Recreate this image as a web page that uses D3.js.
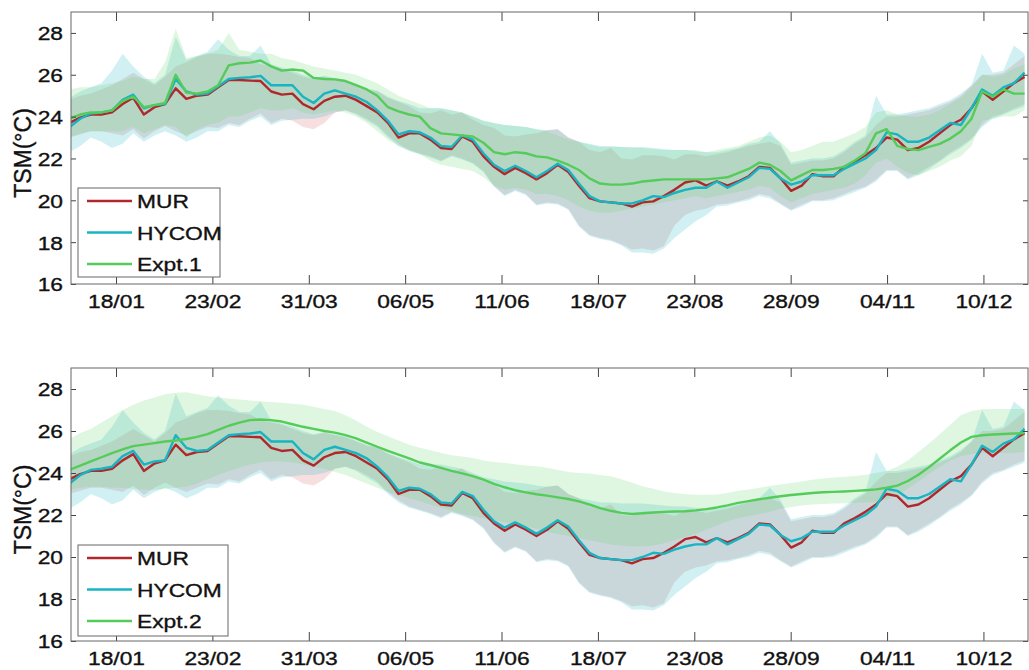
<!DOCTYPE html>
<html>
<head>
<meta charset="utf-8">
<script src="https://cdn.jsdelivr.net/npm/d3@7"></script>
<style>
  body { margin: 0; background: #fff; }
  text { font-family: "Liberation Sans", Arial, Helvetica, sans-serif; fill: #111;
         stroke: #111; stroke-width: 0.35px; }
</style>
</head>
<body>
<svg id="chart" width="1029" height="670"></svg>
<script>
// Daily SST series sampled every 4 days (day of year 1 .. 361)
const DAYS = d3.range(1, 362, 4);

// Date ticks (day of year) and their labels
const TICK_DAYS = [18.5, 54.83, 91.17, 127.5, 163.83, 200.17, 236.5, 272.83, 309.17, 345.5];
const TICK_LABELS = ["18/01", "23/02", "31/03", "06/05", "11/06", "18/07", "23/08", "28/09", "04/11", "10/12"];
const Y_TICKS = [16, 18, 20, 22, 24, 26, 28];

// MUR mean and spread
const MUR = [
  23.7,23.95,24.1,24.1,24.2,24.6,24.9,24.1,24.45,24.6,
  25.35,24.85,25.0,25.05,25.4,25.75,25.75,25.72,25.7,25.2,
  25.05,25.1,24.6,24.35,24.75,24.95,25.0,24.8,24.5,24.2,
  23.7,23.0,23.2,23.2,22.9,22.5,22.45,23.05,22.8,22.1,
  21.6,21.25,21.55,21.3,21.0,21.3,21.7,21.35,20.7,20.1,
  19.95,19.9,19.85,19.7,19.9,19.95,20.2,20.5,20.85,20.95,
  20.7,20.9,20.7,20.9,21.15,21.6,21.55,21.05,20.45,20.7,
  21.25,21.15,21.15,21.6,21.85,22.15,22.5,23.0,22.9,22.4,
  22.5,22.8,23.2,23.6,23.85,24.4,25.2,24.8,25.2,25.6,
  25.9];
const MUR_HI = [
  24.8,25.0,25.1,25.3,25.5,25.8,26.1,25.8,25.5,25.9,
  26.4,26.6,26.85,27.0,27.0,26.95,26.85,26.8,26.5,26.4,
  26.3,26.1,25.9,25.8,25.9,25.8,25.7,25.5,25.3,25.2,
  24.9,24.7,24.5,24.2,24.15,24.3,24.1,24.2,23.85,23.6,
  23.45,23.1,23.05,23.15,23.2,23.35,23.4,23.0,22.8,22.4,
  22.3,22.5,22.0,21.95,22.15,22.15,22.1,21.95,22.2,22.2,
  22.1,22.2,22.3,22.45,22.6,22.7,22.8,22.6,21.7,21.8,
  21.9,21.9,22.0,22.3,22.7,23.0,23.6,24.0,24.0,24.1,
  24.2,24.3,24.5,24.7,25.0,25.5,26.0,26.0,26.1,26.5,
  26.9];
const MUR_LO = [
  23.0,23.15,23.3,23.3,23.2,23.1,23.4,22.95,23.3,23.55,
  23.3,23.1,23.3,23.5,23.45,23.7,23.6,23.9,24.15,23.7,
  23.9,23.8,23.5,23.4,23.7,24.2,24.3,24.15,23.9,23.6,
  23.1,22.7,22.4,22.25,22.1,21.9,22.15,22.0,21.8,21.4,
  20.7,20.25,20.5,20.3,19.8,19.9,19.85,19.6,18.8,18.35,
  18.2,18.1,17.9,17.65,17.7,17.6,17.8,18.8,19.3,19.5,
  19.6,19.8,19.85,19.95,20.1,20.3,20.2,19.85,19.55,19.8,
  20.0,20.0,20.1,20.3,20.5,20.65,21.0,21.45,21.45,21.05,
  21.3,21.6,21.9,22.3,22.6,22.95,23.6,24.0,24.15,24.4,
  24.6];

// HYCOM mean and spread
const HYCOM = [
  23.5,23.9,24.15,24.2,24.3,24.8,25.05,24.4,24.55,24.6,
  25.8,25.2,25.05,25.1,25.45,25.8,25.85,25.88,25.95,25.5,
  25.5,25.5,24.95,24.65,25.1,25.25,25.1,24.95,24.7,24.3,
  23.8,23.15,23.3,23.25,23.0,22.6,22.55,23.1,22.9,22.25,
  21.7,21.4,21.65,21.4,21.1,21.4,21.75,21.45,20.8,20.2,
  19.95,19.9,19.85,19.85,20.0,20.2,20.15,20.35,20.5,20.6,
  20.6,20.9,20.6,20.85,21.1,21.55,21.5,21.05,20.75,20.9,
  21.2,21.2,21.2,21.5,21.75,22.0,22.4,23.25,23.15,22.8,
  22.8,23.0,23.35,23.7,23.6,24.4,25.3,25.0,25.4,25.6,
  26.1];
const HYCOM_HI = [
  24.9,25.2,25.4,25.6,26.2,27.0,26.4,25.9,25.6,26.0,
  27.8,26.7,26.9,27.1,27.7,27.2,26.9,26.9,27.4,26.5,
  26.35,26.2,26.0,25.85,25.95,25.85,25.75,25.55,25.35,25.25,
  24.95,24.75,24.6,24.4,24.4,24.4,24.3,24.2,24.0,23.8,
  23.7,23.6,23.55,23.5,23.4,23.35,23.4,23.0,22.8,22.7,
  22.6,22.6,22.55,22.55,22.55,22.5,22.45,22.4,22.4,22.35,
  22.3,22.3,22.4,22.5,22.7,22.8,23.3,22.7,21.8,21.9,
  22.0,22.0,22.1,22.4,22.8,23.1,25.0,24.1,24.1,24.2,
  24.3,24.4,24.6,24.8,25.1,25.5,27.0,26.1,26.2,27.4,
  27.0];
const HYCOM_LO = [
  22.3,22.6,23.0,22.8,22.5,22.7,23.2,22.8,23.1,23.3,
  23.1,22.8,23.0,23.3,23.3,23.6,23.5,23.8,24.0,23.6,
  23.8,23.85,23.9,23.9,24.0,24.2,24.3,24.1,23.8,23.5,
  23.0,22.6,22.35,22.2,22.05,21.85,22.1,21.95,21.75,21.35,
  20.65,20.2,20.45,20.25,19.75,19.85,19.8,19.55,18.75,18.3,
  18.15,18.05,17.85,17.5,17.5,17.45,17.7,18.2,18.6,19.0,
  19.3,19.7,19.75,19.9,20.0,20.2,20.1,19.8,19.5,19.7,
  19.95,19.95,20.0,20.2,20.4,20.6,20.9,21.4,21.4,21.0,
  21.2,21.5,21.85,22.2,22.5,22.9,23.5,23.9,24.1,24.3,
  24.5];

// Experiment 1 mean and spread
const EXPT1 = [
  23.9,24.1,24.2,24.2,24.3,24.75,24.95,24.45,24.55,24.65,
  26.0,25.15,25.1,25.2,25.5,26.45,26.55,26.58,26.68,26.4,
  26.2,26.25,26.2,25.85,25.8,25.78,25.7,25.5,25.3,25.0,
  24.45,24.25,24.1,24.0,23.45,23.2,23.15,23.1,23.05,22.75,
  22.3,22.2,22.3,22.25,22.1,22.05,21.9,21.7,21.45,21.05,
  20.8,20.75,20.75,20.8,20.9,20.95,21.0,21.0,21.0,21.0,
  21.0,21.05,21.1,21.3,21.5,21.8,21.7,21.4,20.95,21.2,
  21.45,21.45,21.5,21.6,21.9,22.25,23.2,23.4,22.6,22.45,
  22.4,22.55,22.7,22.95,23.3,23.9,25.2,24.95,25.3,25.1,
  25.1];
const EXPT1_HI = [
  25.3,25.4,25.4,25.5,25.6,25.7,25.9,25.8,25.8,26.6,
  28.2,26.8,26.9,27.0,27.2,28.0,27.2,27.1,27.0,27.0,
  26.8,26.7,26.55,26.4,26.3,26.2,26.1,26.0,25.8,25.6,
  25.3,25.0,24.8,24.6,24.4,24.4,24.3,24.2,24.0,23.8,
  23.7,23.6,23.55,23.5,23.4,23.3,23.1,22.9,22.8,22.65,
  22.55,22.55,22.55,22.5,22.5,22.45,22.4,22.4,22.4,22.4,
  22.3,22.4,22.5,22.6,22.8,23.0,23.1,22.8,22.3,22.4,
  22.6,22.8,22.8,23.0,23.2,23.5,24.2,24.3,24.1,24.0,
  24.0,24.1,24.3,24.6,24.9,25.4,26.0,25.9,26.0,26.3,
  26.5];
const EXPT1_LO = [
  23.0,23.2,23.3,23.3,23.3,23.3,23.5,23.2,23.4,23.6,
  23.5,23.0,23.4,23.6,23.7,24.0,24.0,24.2,24.4,24.3,
  24.3,24.4,24.2,24.1,24.2,24.3,24.2,24.0,23.7,23.3,
  22.9,22.6,22.4,22.2,21.9,21.7,21.6,21.5,21.4,21.1,
  20.7,20.5,20.6,20.5,20.3,20.3,20.2,20.0,19.7,19.5,
  19.4,19.4,19.5,19.6,19.7,19.8,19.9,20.0,20.1,20.2,
  20.1,20.2,20.3,20.4,20.5,20.7,20.6,20.2,19.9,20.1,
  20.3,20.4,20.5,20.6,20.8,21.2,21.8,22.0,21.6,21.3,
  21.2,21.4,21.6,21.9,22.1,22.6,23.8,23.9,24.0,24.0,
  24.3];

// Experiment 2 mean and spread
const EXPT2 = [
  24.15,24.35,24.55,24.75,24.95,25.12,25.28,25.35,25.42,25.5,
  25.55,25.62,25.72,25.85,26.05,26.25,26.4,26.52,26.55,26.52,
  26.45,26.32,26.2,26.1,26.0,25.92,25.8,25.65,25.45,25.25,
  25.05,24.88,24.7,24.5,24.38,24.24,24.1,23.98,23.85,23.68,
  23.48,23.32,23.18,23.08,22.99,22.92,22.84,22.76,22.65,22.5,
  22.33,22.2,22.1,22.05,22.08,22.12,22.15,22.17,22.18,22.22,
  22.28,22.36,22.46,22.58,22.66,22.75,22.82,22.89,22.95,23.0,
  23.05,23.08,23.1,23.12,23.15,23.18,23.22,23.3,23.4,23.62,
  23.92,24.28,24.68,25.08,25.45,25.72,25.8,25.83,25.86,25.88,
  25.9];
const EXPT2_HI = [
  25.6,25.9,26.1,26.4,26.7,27.0,27.25,27.45,27.6,27.75,
  27.82,27.85,27.75,27.65,27.6,27.55,27.5,27.45,27.42,27.38,
  27.34,27.3,27.25,27.15,27.05,26.95,26.75,26.5,26.2,25.95,
  25.75,25.55,25.35,25.2,25.08,24.96,24.85,24.78,24.72,24.6,
  24.52,24.48,24.42,24.36,24.32,24.25,24.15,24.05,24.0,23.98,
  23.9,23.84,23.7,23.55,23.37,23.25,23.12,23.05,22.99,22.97,
  22.97,22.98,23.05,23.15,23.22,23.3,23.38,23.45,23.52,23.6,
  23.68,23.74,23.78,23.82,23.86,23.92,24.0,24.1,24.3,24.6,
  25.0,25.4,25.85,26.3,26.75,26.95,27.03,27.05,27.05,27.05,
  27.05];
const EXPT2_LO = [
  23.2,23.3,23.35,23.35,23.3,23.3,23.25,23.2,23.2,23.25,
  23.3,23.35,23.5,23.7,23.9,24.1,24.25,24.4,24.5,24.55,
  24.55,24.5,24.4,24.3,24.2,24.05,23.9,23.7,23.5,23.3,
  23.1,22.95,22.8,22.65,22.5,22.35,22.2,22.05,21.95,21.85,
  21.75,21.65,21.55,21.45,21.35,21.2,21.1,21.0,20.9,20.8,
  20.7,20.6,20.55,20.5,20.5,20.55,20.65,20.8,20.95,21.1,
  21.3,21.5,21.7,21.85,21.95,22.05,22.15,22.3,22.38,22.45,
  22.5,22.52,22.55,22.56,22.58,22.6,22.62,22.75,22.95,23.25,
  23.6,23.95,24.3,24.6,24.8,24.9,24.95,24.95,24.95,24.97,
  25.0];

const COLORS = {
  mur:   { line: "#b0282c", fill: "rgba(214,85,85,0.19)" },
  hycom: { line: "#17b4c2", fill: "rgba(45,185,200,0.22)" },
  expt:  { line: "#55cc5a", fill: "rgba(95,210,105,0.2)" }
};

const svg = d3.select("#chart");
const PLOT_L = 71, PLOT_R = 1028;
const TXT_SX = 1.2; // horizontal glyph stretch of the labels

const x = d3.scaleLinear().domain([1.53, 362.3]).range([PLOT_L, PLOT_R]);

const panels = [
  { top: 12,  bottom: 284, name: "Expt.1", mean: EXPT1, hi: EXPT1_HI, lo: EXPT1_LO,
    legend: { x: 78, y: 188, w: 142, h: 89 } },
  { top: 368, bottom: 641, name: "Expt.2", mean: EXPT2, hi: EXPT2_HI, lo: EXPT2_LO,
    legend: { x: 78, y: 545, w: 150, h: 91 } }
];

panels.forEach((p, i) => {
  const y = d3.scaleLinear().domain([16, 29]).range([p.bottom, p.top]);
  const g = svg.append("g");

  const clipId = "clip" + i;
  g.append("clipPath").attr("id", clipId)
    .append("rect").attr("x", PLOT_L).attr("y", p.top)
    .attr("width", PLOT_R - PLOT_L).attr("height", p.bottom - p.top);

  const plot = g.append("g").attr("clip-path", `url(#${clipId})`);

  const band = (lo, hi) => d3.area()
    .x((d, k) => x(DAYS[k]))
    .y0((d, k) => y(lo[k]))
    .y1((d, k) => y(hi[k]))(DAYS);
  const line = (vals) => d3.line()
    .x((d, k) => x(DAYS[k]))
    .y((d, k) => y(vals[k]))(DAYS);

  plot.append("path").attr("d", band(MUR_LO, MUR_HI)).attr("fill", COLORS.mur.fill);
  plot.append("path").attr("d", band(HYCOM_LO, HYCOM_HI)).attr("fill", COLORS.hycom.fill);
  plot.append("path").attr("d", band(p.lo, p.hi)).attr("fill", COLORS.expt.fill);

  [[MUR, COLORS.mur.line], [HYCOM, COLORS.hycom.line], [p.mean, COLORS.expt.line]]
    .forEach(([vals, c]) => {
      plot.append("path").attr("d", line(vals)).attr("fill", "none")
        .attr("stroke", c).attr("stroke-width", 2.4).attr("stroke-linejoin", "round");
    });

  // Axes with inward ticks on all four sides
  const xb = d3.axisBottom(x).tickValues(TICK_DAYS).tickSizeInner(-9).tickSizeOuter(0)
    .tickFormat((d, k) => TICK_LABELS[k]);
  const xt = d3.axisTop(x).tickValues(TICK_DAYS).tickSizeInner(-9).tickSizeOuter(0).tickFormat("");
  const yl = d3.axisLeft(y).tickValues(Y_TICKS).tickSizeInner(-5).tickSizeOuter(0);
  const yr = d3.axisRight(y).tickValues(Y_TICKS).tickSizeInner(-5).tickSizeOuter(0).tickFormat("");

  const gxb = g.append("g").attr("transform", `translate(0,${p.bottom})`).call(xb);
  g.append("g").attr("transform", `translate(0,${p.top})`).call(xt);
  const gyl = g.append("g").attr("transform", `translate(${PLOT_L},0)`).call(yl);
  g.append("g").attr("transform", `translate(${PLOT_R},0)`).call(yr);

  g.selectAll(".domain").remove();
  g.selectAll(".tick line").attr("stroke", "#444");

  gxb.selectAll("text").attr("y", 0).attr("dy", 24)
    .attr("font-size", 19).attr("transform", `scale(${TXT_SX},1)`);
  gyl.selectAll("text").attr("x", -8 / TXT_SX).attr("dy", "0.36em")
    .attr("font-size", 19).attr("transform", `scale(${TXT_SX},1)`);

  // Axes box
  g.append("rect").attr("x", PLOT_L).attr("y", p.top)
    .attr("width", PLOT_R - PLOT_L).attr("height", p.bottom - p.top)
    .attr("fill", "none").attr("stroke", "#666").attr("stroke-width", 1);

  // Y label
  g.append("text")
    .attr("transform", `translate(31,${(p.top + p.bottom) / 2 + 5}) rotate(-90)`)
    .attr("text-anchor", "middle").attr("font-size", 23)
    .text("TSM(°C)");

  // Legend
  const L = p.legend;
  const lg = g.append("g");
  lg.append("rect").attr("x", L.x).attr("y", L.y).attr("width", L.w).attr("height", L.h)
    .attr("fill", "#fff").attr("stroke", "#666").attr("stroke-width", 1);
  const entries = [["MUR", COLORS.mur.line], ["HYCOM", COLORS.hycom.line], [p.name, COLORS.expt.line]];
  entries.forEach(([label, c], k) => {
    const yy = L.y + 13 + k * 31.5;
    lg.append("line").attr("x1", L.x + 9).attr("x2", L.x + 54)
      .attr("y1", yy).attr("y2", yy).attr("stroke", c).attr("stroke-width", 2.4);
    lg.append("text").attr("transform", `translate(${L.x + 59},${yy + 7}) scale(${TXT_SX},1)`)
      .attr("font-size", 19).text(label);
  });
});
</script>
</body>
</html>
